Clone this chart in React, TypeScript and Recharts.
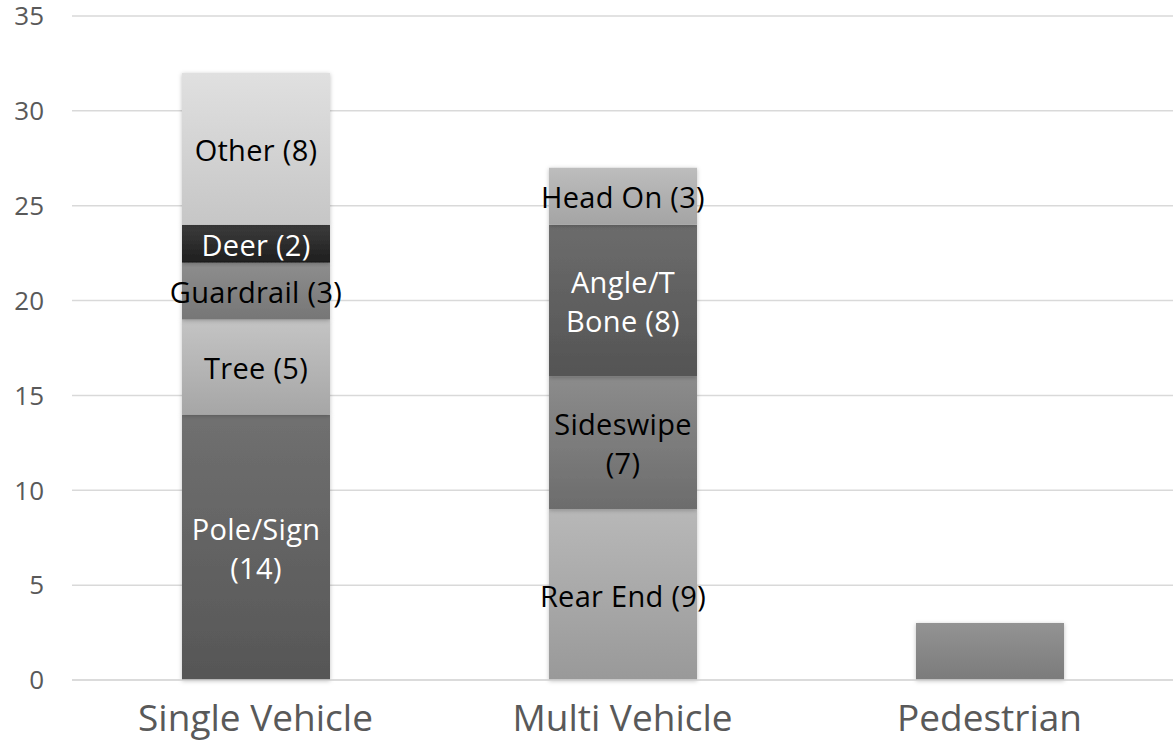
import React from 'react';
import { BarChart, Bar, XAxis, YAxis, CartesianGrid, LabelList } from 'recharts';

// Categories and crash counts
const categories = ['Single Vehicle', 'Multi Vehicle', 'Pedestrian'];
const singleTypes = ['Pole/Sign', 'Tree', 'Guardrail', 'Deer', 'Other'];
const singleCounts = [14, 5, 3, 2, 8];
const multiTypes = ['Rear End', 'Sideswipe', 'Angle/T Bone', 'Head On'];
const multiCounts = [9, 7, 8, 3];
const pedestrianCount = 3;
const yTicks = [0, 5, 10, 15, 20, 25, 30, 35];

// gradient top/bottom + label colour per segment
const segStyle: Record<string, { top: string; bottom: string; text: string; lines?: string[] }> = {
  'Pole/Sign': { top: '#707070', bottom: '#565656', text: '#ffffff', lines: ['Pole/Sign', '(14)'] },
  Tree: { top: '#c4c4c4', bottom: '#a6a6a6', text: '#000000' },
  Guardrail: { top: '#8e8e8e', bottom: '#767676', text: '#000000' },
  Deer: { top: '#3c3c3c', bottom: '#1e1e1e', text: '#ffffff' },
  Other: { top: '#e0e0e0', bottom: '#c6c6c6', text: '#000000' },
  'Rear End': { top: '#b8b8b8', bottom: '#999999', text: '#000000' },
  Sideswipe: { top: '#8c8c8c', bottom: '#6c6c6c', text: '#000000', lines: ['Sideswipe', '(7)'] },
  'Angle/T Bone': { top: '#6c6c6c', bottom: '#545454', text: '#ffffff', lines: ['Angle/T', 'Bone (8)'] },
  'Head On': { top: '#bdbdbd', bottom: '#a4a4a4', text: '#000000' },
  Pedestrian: { top: '#939393', bottom: '#7b7b7b', text: '#000000' },
};

const seriesKeys = [...singleTypes, ...multiTypes, 'Pedestrian'];

const data = categories.map((cat, ci) => {
  const row: Record<string, any> = { name: cat };
  if (ci === 0) singleTypes.forEach((t, i) => (row[t] = singleCounts[i]));
  if (ci === 1) multiTypes.forEach((t, i) => (row[t] = multiCounts[i]));
  if (ci === 2) row['Pedestrian'] = pedestrianCount;
  return row;
});

const gid = (k: string) => 'g' + k.replace(/[^a-zA-Z]/g, '');

const FONT = '"Open Sans", "Noto Sans", sans-serif';

const makeLabel = (key: string) => (props: any) => {
  const { x, y, width, height, value } = props;
  if (!value || key === 'Pedestrian') return null;
  const st = segStyle[key];
  const lines = st.lines || [`${key} (${value})`];
  const cx = x + width / 2;
  const cy = y + height / 2;
  const lh = 39;
  return (
    <text x={cx} y={cy - ((lines.length - 1) * lh) / 2} textAnchor="middle" dominantBaseline="central"
      fill={st.text} fontSize={29} fontFamily={FONT} letterSpacing={0.3}>
      {lines.map((l, i) => (
        <tspan key={i} x={cx} dy={i === 0 ? 0 : lh}>{l}</tspan>
      ))}
    </text>
  );
};

export default function App() {
  return (
    <div style={{ position: 'absolute', left: 0, top: 0, background: '#fff' }}>
      <BarChart width={1173} height={748} data={data} margin={{ top: 16, right: 0, left: 0, bottom: 0 }} barSize={148}>
        <defs>
          {seriesKeys.map((k) => (
            <linearGradient key={k} id={gid(k)} x1="0" y1="0" x2="0" y2="1">
              <stop offset="0%" stopColor={segStyle[k].top} />
              <stop offset="100%" stopColor={segStyle[k].bottom} />
            </linearGradient>
          ))}
          <filter id="barShadow" x="-10%" y="-10%" width="120%" height="120%">
            <feDropShadow dx="0" dy="1" stdDeviation="2" floodColor="#000" floodOpacity="0.25" />
          </filter>
        </defs>
        <CartesianGrid vertical={false} stroke="#d9d9d9" strokeWidth={1.5} />
        <XAxis dataKey="name" axisLine={{ stroke: '#d9d9d9', strokeWidth: 1.5 }} tickLine={false} tickSize={0}
          height={68} tick={{ fontSize: 37, fill: '#595959', fontFamily: FONT }} tickMargin={25} />
        <YAxis domain={[0, 35]} ticks={yTicks} width={72} axisLine={false} tickLine={false} tickSize={0}
          tickMargin={28} tick={{ fontSize: 26, fill: '#595959', fontFamily: FONT }} />
        {seriesKeys.map((k) => (
          <Bar key={k} dataKey={k} stackId="a" fill={`url(#${gid(k)})`} isAnimationActive={false}
            style={{ filter: 'url(#barShadow)' }}>
            <LabelList dataKey={k} content={makeLabel(k)} />
          </Bar>
        ))}
      </BarChart>
    </div>
  );
}
